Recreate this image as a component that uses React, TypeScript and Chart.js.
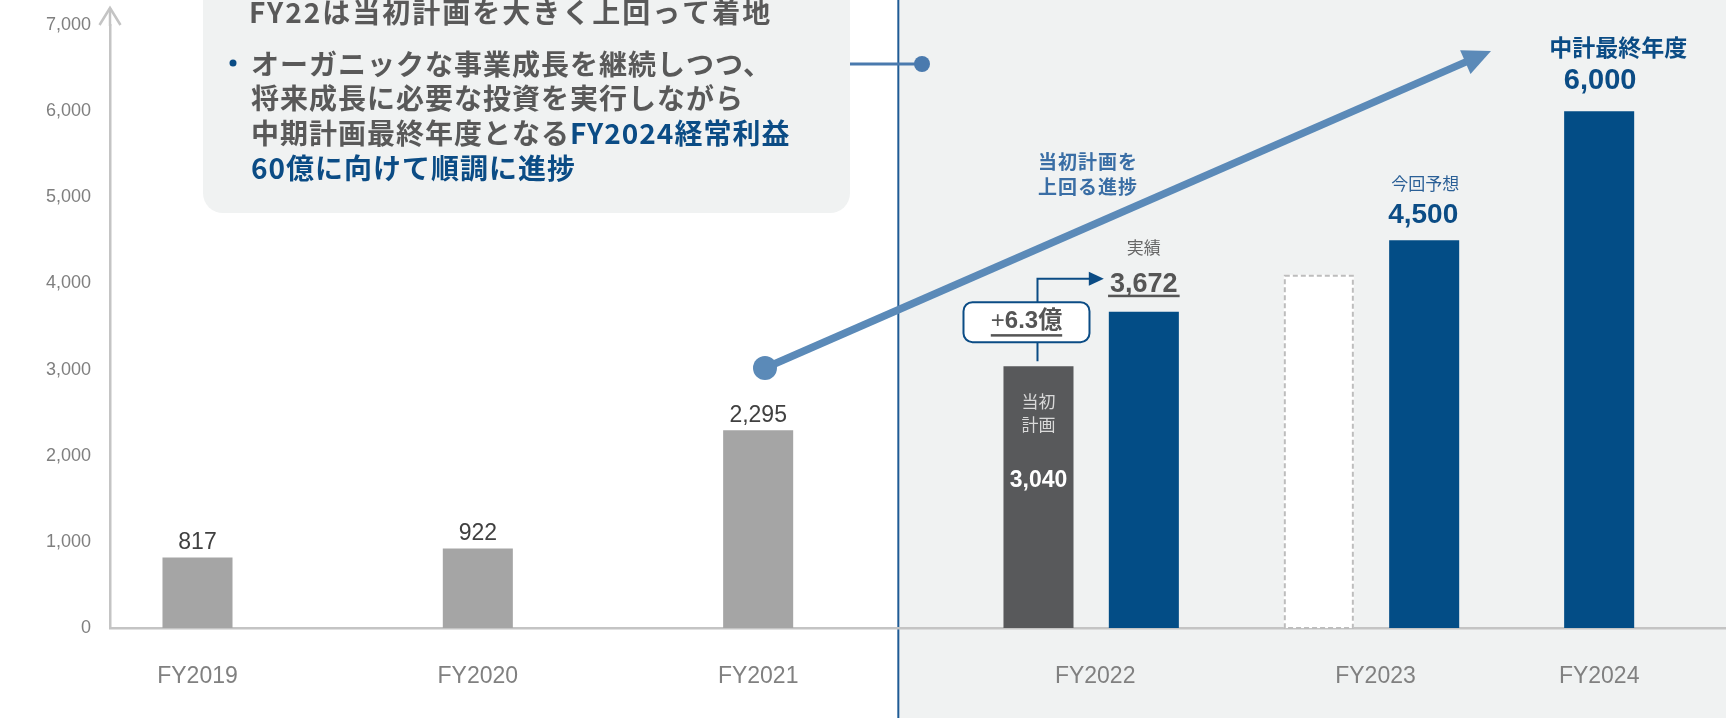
import React, { useEffect, useRef } from 'react';
import { Chart, registerables } from 'chart.js';

Chart.register(...registerables);

// ---------------- data ----------------
const categories = ['FY2019', 'FY2020', 'FY2021', 'FY2022', 'FY2023', 'FY2024'];
const pastResults: (number | null)[] = [817, 922, 2295, null, null, null];
const initialPlan: (number | null)[] = [null, null, null, 3040, 4100, null];
const resultsAndForecast: (number | null)[] = [null, null, null, 3672, 4500, null];
const midTermTarget: (number | null)[] = [null, null, null, null, null, 6000];
const yTickValues = [0, 1000, 2000, 3000, 4000, 5000, 6000, 7000];

const calloutTitle = 'FY22は当初計画を大きく上回って着地';
const calloutLines: [string, boolean][][] = [
  [['オーガニックな事業成長を継続しつつ、', false]],
  [['将来成長に必要な投資を実行しながら', false]],
  [['中期計画最終年度となる', false], ['FY2024経常利益', true]],
  [['60億に向けて順調に進捗', true]],
];
const arrowCaption = ['当初計画を', '上回る進捗'];

// ---------------- styles ----------------
const FONT_JP = "'Noto Sans CJK JP', 'Noto Sans', sans-serif";
const FONT_NUM = "'Liberation Sans', 'Noto Sans CJK JP', Arial, sans-serif";
const GRAY_PAST = '#A5A5A5';
const GRAY_PLAN = '#58595B';
const NAVY = '#034D86';
const NAVY_TXT = '#0B4C85';
const STEEL = '#5B8AB8';
const PANEL = '#F0F2F2';
const AXIS = '#C4C4C4';
const TXT_GRAY = '#595959';

const fmt = (v: number) => v.toLocaleString('en-US');

function text(
  ctx: CanvasRenderingContext2D,
  s: string,
  x: number,
  y: number,
  font: string,
  color: string,
  align: CanvasTextAlign = 'center',
  spacing = 0
) {
  ctx.save();
  ctx.font = font;
  ctx.fillStyle = color;
  ctx.textAlign = align;
  ctx.textBaseline = 'middle';
  (ctx as any).letterSpacing = spacing + 'px';
  ctx.fillText(s, x, y);
  const w = ctx.measureText(s).width;
  ctx.restore();
  return w;
}

function roundRect(ctx: CanvasRenderingContext2D, x: number, y: number, w: number, h: number, r: number) {
  ctx.beginPath();
  ctx.moveTo(x + r, y);
  ctx.lineTo(x + w - r, y);
  ctx.arcTo(x + w, y, x + w, y + r, r);
  ctx.lineTo(x + w, y + h - r);
  ctx.arcTo(x + w, y + h, x + w - r, y + h, r);
  ctx.lineTo(x + r, y + h);
  ctx.arcTo(x, y + h, x, y + h - r, r);
  ctx.lineTo(x, y + r);
  ctx.arcTo(x, y, x + r, y, r);
  ctx.closePath();
}

const decor = {
  id: 'decor',
  beforeDraw(chart: any) {
    const { ctx, width, height } = chart;
    const past = chart.getDatasetMeta(0).data[2];
    const plan = chart.getDatasetMeta(1).data[3];
    const divX = (past.x + past.width / 2 + (plan.x - plan.width / 2)) / 2;
    ctx.save();
    ctx.fillStyle = '#FFFFFF';
    ctx.fillRect(0, 0, width, height);
    ctx.fillStyle = PANEL;
    ctx.fillRect(divX, 0, width - divX, height);
    ctx.strokeStyle = '#1F5B95';
    ctx.lineWidth = 2;
    ctx.beginPath();
    ctx.moveTo(divX, 0);
    ctx.lineTo(divX, height);
    ctx.stroke();
    ctx.restore();
  },
  afterDraw(chart: any) {
    const { ctx, chartArea } = chart;
    const el = (ds: number, i: number) => chart.getDatasetMeta(ds).data[i] as any;
    ctx.save();

    // y-axis arrow head
    const ax = chartArea.left;
    ctx.strokeStyle = AXIS;
    ctx.lineWidth = 2.5;
    ctx.beginPath();
    ctx.moveTo(ax, chartArea.top + 1);
    ctx.lineTo(ax, chartArea.top - 17);
    ctx.stroke();
    ctx.beginPath();
    ctx.moveTo(ax - 10.5, chartArea.top);
    ctx.lineTo(ax, chartArea.top - 17);
    ctx.lineTo(ax + 10.5, chartArea.top);
    ctx.stroke();

    // dashed outline of previous plan FY2023
    const prev = el(1, 4);
    ctx.setLineDash([5, 3]);
    ctx.strokeStyle = '#BDBDBD';
    ctx.lineWidth = 2;
    ctx.strokeRect(prev.x - prev.width / 2 + 1, prev.y + 1, prev.width - 2, prev.base - prev.y - 1);
    ctx.setLineDash([]);

    // past value labels
    for (let i = 0; i < pastResults.length; i++) {
      const v = pastResults[i];
      if (v == null) continue;
      const b = el(0, i);
      text(ctx, fmt(v), b.x, b.y - 15, `23px ${FONT_NUM}`, '#404040');
    }

    // FY2022 initial plan
    const p = el(1, 3);
    text(ctx, '当初', p.x, p.y + 35, `17px ${FONT_JP}`, '#D9D9D9');
    text(ctx, '計画', p.x, p.y + 58, `17px ${FONT_JP}`, '#D9D9D9');
    text(ctx, fmt(initialPlan[3] as number), p.x, p.y + 115, `bold 23px ${FONT_NUM}`, '#FFFFFF');

    // FY2022 actual
    const a = el(2, 3);
    text(ctx, '実績', a.x, a.y - 64, `17px ${FONT_JP}`, '#666666');
    const wA = text(ctx, fmt(resultsAndForecast[3] as number), a.x, a.y - 27, `bold 27px ${FONT_NUM}`, '#555555');
    ctx.fillStyle = '#555555';
    ctx.fillRect(a.x - wA / 2 - 2, a.y - 17, wA + 4, 2.5);

    // difference box
    const cx = p.x - 1;
    const boxL = p.x - 75;
    const boxR = p.x + 51;
    const boxT = p.y - 64;
    const boxB = p.y - 24;
    const lineY = a.y - 33;
    ctx.strokeStyle = NAVY_TXT;
    ctx.lineWidth = 2;
    ctx.beginPath();
    ctx.moveTo(cx, p.y - 5);
    ctx.lineTo(cx, boxB);
    ctx.moveTo(cx, boxT);
    ctx.lineTo(cx, lineY);
    const tipX = a.x - a.width / 2 - 5;
    ctx.lineTo(tipX - 14, lineY);
    ctx.stroke();
    ctx.fillStyle = NAVY_TXT;
    ctx.beginPath();
    ctx.moveTo(tipX, lineY);
    ctx.lineTo(tipX - 15, lineY - 7);
    ctx.lineTo(tipX - 15, lineY + 7);
    ctx.closePath();
    ctx.fill();
    roundRect(ctx, boxL, boxT, boxR - boxL, boxB - boxT, 9);
    ctx.fillStyle = '#FFFFFF';
    ctx.fill();
    ctx.stroke();
    const diff = ((resultsAndForecast[3] as number) - (initialPlan[3] as number)) / 100;
    const dX = p.x - 12;
    const plusW = text(ctx, '+', 0, -100, `24px ${FONT_NUM}`, '#555555');
    const restStr = `${diff.toFixed(1)}億`;
    const restW = text(ctx, restStr, 0, -100, `bold 24px ${FONT_NUM}`, '#555555');
    const totalW = plusW + restW;
    const startX = dX - totalW / 2;
    text(ctx, '+', startX, p.y - 45, `24px ${FONT_NUM}`, '#555555', 'left');
    text(ctx, restStr, startX + plusW, p.y - 45, `bold 24px ${FONT_NUM}`, '#555555', 'left');
    ctx.fillStyle = '#555555';
    ctx.fillRect(startX, p.y - 32, totalW, 2.5);

    // FY2023 forecast
    const f = el(2, 4);
    text(ctx, '今回予想', f.x + 1, f.y - 57, `17px ${FONT_JP}`, '#2A5F96');
    text(ctx, fmt(resultsAndForecast[4] as number), f.x - 1, f.y - 25, `bold 28px ${FONT_NUM}`, NAVY_TXT);

    // FY2024 target
    const t = el(3, 5);
    text(ctx, '中計最終年度', t.x + 19, t.y - 64, `bold 23px ${FONT_JP}`, NAVY_TXT);
    text(ctx, fmt(midTermTarget[5] as number), t.x + 1, t.y - 30, `bold 29px ${FONT_NUM}`, NAVY_TXT);

    // big progress arrow
    const s = { x: 765, y: 368 };
    const e = { x: 1491, y: 51 };
    const ang = Math.atan2(e.y - s.y, e.x - s.x);
    const headL = 28;
    const headW = 13;
    const bx = e.x - headL * Math.cos(ang);
    const by = e.y - headL * Math.sin(ang);
    ctx.strokeStyle = STEEL;
    ctx.fillStyle = STEEL;
    ctx.lineWidth = 7.5;
    ctx.beginPath();
    ctx.moveTo(s.x, s.y);
    ctx.lineTo(bx + 2 * Math.cos(ang), by + 2 * Math.sin(ang));
    ctx.stroke();
    ctx.beginPath();
    ctx.moveTo(e.x, e.y);
    ctx.lineTo(bx + headW * Math.sin(ang), by - headW * Math.cos(ang));
    ctx.lineTo(bx - headW * Math.sin(ang), by + headW * Math.cos(ang));
    ctx.closePath();
    ctx.fill();
    ctx.beginPath();
    ctx.arc(s.x, s.y, 12, 0, Math.PI * 2);
    ctx.fill();
    text(ctx, arrowCaption[0], 1088, 162, `bold 19px ${FONT_JP}`, '#3A6EA5', 'center', 1);
    text(ctx, arrowCaption[1], 1088, 187, `bold 19px ${FONT_JP}`, '#3A6EA5', 'center', 1);

    // callout box
    roundRect(ctx, 203, -40, 647, 253, 20);
    ctx.fillStyle = PANEL;
    ctx.fill();
    ctx.strokeStyle = '#4A7AAE';
    ctx.fillStyle = '#4A7AAE';
    ctx.lineWidth = 3;
    ctx.beginPath();
    ctx.moveTo(850, 64);
    ctx.lineTo(922, 64);
    ctx.stroke();
    ctx.beginPath();
    ctx.arc(922, 64, 8, 0, Math.PI * 2);
    ctx.fill();
    text(ctx, calloutTitle, 249, 12, `bold 28px ${FONT_JP}`, TXT_GRAY, 'left', 2);
    ctx.fillStyle = NAVY_TXT;
    ctx.beginPath();
    ctx.arc(233, 63, 3.5, 0, Math.PI * 2);
    ctx.fill();
    const lineYs = [64, 98.5, 133, 168];
    calloutLines.forEach((segs, li) => {
      let x = 251;
      segs.forEach(([str, blue]) => {
        x += text(ctx, str, x, lineYs[li], `bold 28px ${FONT_JP}`, blue ? NAVY_TXT : TXT_GRAY, 'left', 1);
      });
    });

    // category labels centred under each group of bars
    const nDs = chart.data.datasets.length;
    categories.forEach((cat, i) => {
      const xs: number[] = [];
      for (let d = 0; d < nDs; d++) {
        const v = chart.data.datasets[d].data[i];
        if (v != null) xs.push(el(d, i).x);
      }
      const x = xs.reduce((q, r) => q + r, 0) / xs.length;
      text(ctx, cat, x + (xs.length > 1 ? 4 : 0), chartArea.bottom + 49, `23px ${FONT_NUM}`, '#808080');
    });

    ctx.restore();
  },
};

const barCommon = { categoryPercentage: 0.7516, barPercentage: 0.6648, borderWidth: 0 };

export default function App() {
  const ref = useRef<HTMLCanvasElement>(null);
  useEffect(() => {
    const canvas = ref.current as HTMLCanvasElement;
    Chart.defaults.font.family = FONT_NUM;
    const chart = new Chart(canvas, {
      type: 'bar',
      data: {
        labels: categories,
        datasets: [
          { ...barCommon, label: '実績', data: pastResults, stack: 'plan', backgroundColor: GRAY_PAST },
          {
            ...barCommon,
            label: '当初計画',
            data: initialPlan,
            stack: 'plan',
            backgroundColor: (c: any) => (c.dataIndex === 3 ? GRAY_PLAN : '#FFFFFF'),
          },
          { ...barCommon, label: '実績・今回予想', data: resultsAndForecast, stack: 'result', backgroundColor: NAVY },
          { ...barCommon, label: '中計最終年度', data: midTermTarget, stack: 'plan', backgroundColor: NAVY },
        ],
      } as any,
      options: {
        responsive: false,
        maintainAspectRatio: false,
        animation: false,
        layout: { padding: { top: 25, left: 0, right: 0, bottom: 0 } },
        plugins: { legend: { display: false }, tooltip: { enabled: false } },
        scales: {
          x: {
            type: 'category',
            offset: true,
            grid: { display: false, drawTicks: false },
            border: { display: true, color: AXIS, width: 2.5 },
            ticks: { display: false },
            afterFit: (s: any) => {
              s.height = 90;
              s.paddingLeft = 0;
              s.paddingRight = 0;
            },
          },
          y: {
            min: 0,
            max: 7000,
            grid: { display: false, drawTicks: false },
            border: { display: true, color: AXIS, width: 2.5 },
            ticks: {
              padding: 19,
              color: '#7F7F7F',
              font: { size: 18, family: FONT_NUM },
              callback: (v: any) => fmt(Number(v)),
            },
            afterBuildTicks: (s: any) => {
              s.ticks = yTickValues.map((v) => ({ value: v }));
            },
            afterFit: (s: any) => {
              s.width = 110;
              s.paddingTop = 0;
              s.paddingBottom = 0;
            },
          },
        },
      } as any,
      plugins: [decor],
    });
    return () => chart.destroy();
  }, []);
  return (
    <div
      style={{
        position: 'fixed',
        left: 0,
        top: 0,
        width: 1726,
        height: 718,
        overflow: 'hidden',
        background: '#FFFFFF',
      }}
    >
      <canvas ref={ref} width={1792} height={718} style={{ display: 'block', width: 1792, height: 718 }} />
    </div>
  );
}
